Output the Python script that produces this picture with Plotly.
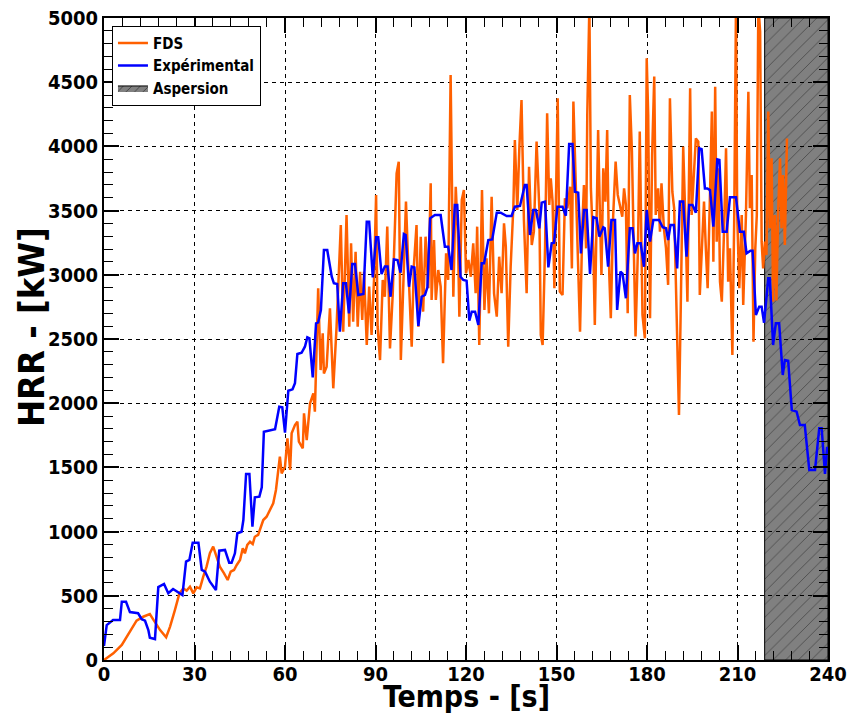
import plotly.graph_objects as go

# FDS (simulation) - temps [s] / HRR [kW]
t_fds = [0, 3.1, 5.9, 8.6, 10.8, 13, 15.2, 16.3, 18.6, 20.6, 21.9, 23.5, 25, 26.3, 27.4, 28.5, 29.6,
         30.7, 31.8, 32.9, 34, 35.1, 36.2, 37.3, 38.4, 39.8, 41, 42, 43.1, 44, 45.1, 46, 46.7, 47.5,
         48.4, 49.3, 50, 51.1, 52, 52.8, 53.9, 55, 56.1, 57, 57.8, 58.3, 58.9, 60, 60.8, 61.7, 62.2,
         63.3, 64.1, 64.6, 65.9, 66.3, 67.2, 68.3, 69.4, 69.9, 71, 71.8, 72.5, 72.9, 73.8, 74.9, 76,
         77.1, 78.5, 79.3, 80.4, 81.3, 81.9, 82.6, 83.4, 84.1, 84.9, 85.6, 86.2, 87.1, 87.9, 88.7,
         89.5, 90.2, 90.7, 91.5, 92.4, 93.1, 93.9, 94.8, 95.7, 96.5, 97, 97.7, 98.4, 99.2, 100.1,
         100.9, 101.4, 102, 102.7, 103.6, 104.2, 105, 105.8, 106.6, 107.5, 108.3, 108.6, 109.4, 110,
         110.8, 111.6, 112.4, 113.4, 114.1, 114.9, 115.8, 116.6, 117.3, 117.8, 118.6, 119.3, 120,
         120.8, 121.6, 122.4, 123.2, 123.7, 124.4, 125.3, 126.1, 126.8, 127.6, 128.5, 129.3, 130.2,
         131, 131.8, 132.6, 133.2, 134, 134.8, 135.7, 136.2, 137, 137.7, 138.4, 139.2, 140.1, 140.9,
         141.8, 142.5, 143.4, 144.3, 144.8, 145.4, 146.2, 146.9, 147.6, 148.1, 148.7, 149.3, 149.8,
         150.4, 151.1, 152, 152.8, 153.6, 154.5, 155.1, 155.6, 156.4, 157.1, 157.8, 158.6, 159.1,
         159.8, 160.2, 160.9, 161.4, 162.2, 162.7, 163.3, 163.8, 164.4, 164.9, 165.5, 166.2, 166.8,
         167.5, 168, 168.8, 169.6, 170.3, 171, 171.8, 172.4, 173, 173.6, 174.3, 175, 175.6, 176.2,
         177, 177.6, 178.5, 179.3, 179.9, 180.4, 181, 181.7, 182.4, 182.9, 183.7, 184.3, 184.8,
         185.6, 186.3, 187, 187.6, 188.4, 189, 189.8, 190.6, 191.2, 192, 192.8, 193.4, 194.3, 194.8,
         195.4, 196.2, 197, 197.5, 198.2, 198.9, 199.5, 200.1, 200.9, 201.5, 202, 202.6, 203.1,
         203.7, 204.2, 204.8, 205.5, 206.2, 206.9, 207.5, 208.3, 208.9, 209.5, 209.9, 210.6, 211.4,
         211.9, 212.8, 213.6, 214.1, 214.7, 215.3, 215.9, 216.4, 216.9, 217.5, 218, 218.5, 219.1,
         219.6, 220.2, 220.7, 221.3, 221.8, 222.4, 222.9, 223.5, 224.1, 224.6, 225.1, 225.7, 226.4]
hrr_fds = [0, 52, 117, 221, 306, 337, 358, 317, 233, 177, 260, 389, 519, 558, 540, 571, 519,
           566, 558, 649, 727, 831, 883, 805, 727, 675, 623, 688, 701, 740, 779, 870, 831, 896,
           921, 903, 960, 974, 1038, 1090, 1116, 1168, 1220, 1324, 1493, 1583, 1454, 1505, 1727, 1480, 1765,
           1830, 1856, 1700, 1649, 1921, 1713, 1999, 2077, 1934, 2895, 2258, 2544, 2232, 2284, 2739, 2116,
           2596, 3388, 2557, 3466, 2596, 3245, 2635, 3180, 2596, 3024, 2648, 3024, 2453, 2908, 2531,
           2960, 3622, 2596, 2336, 2960, 2829, 3375, 2427, 2843, 3375, 3790, 3881, 2336, 2908, 3570,
           3050, 2817, 2440, 3063, 3388, 2596, 3297, 2713, 3297, 2895, 3712, 2804, 3271, 2804,
           3037, 2908, 2311, 3167, 2960, 4556, 2829, 3686, 3323, 2674, 3583, 3660, 3011,
           3115, 2985, 3245, 2856, 3375, 2453, 3660, 2726, 3128, 2700, 3608, 2856, 2674,
           3141, 2856, 3401, 3219, 2440, 3063, 3530, 4050, 3505, 4000, 4361, 3427, 2856, 3842,
           3232, 3336, 4037, 3518, 2531, 2453, 3206, 4258, 3544, 3751, 3570, 2895, 3466,
           4375, 2869, 2843, 3596, 3518, 3686, 3050, 4349, 3673, 3063, 2557, 3414, 3699,
           3206, 4245, 5100, 3673, 3206, 2609, 3440, 4128, 3466, 2998, 3829, 3570, 4128,
           2998, 2661, 3466, 3881, 3622, 3544, 3453, 3673, 3544, 2700, 4400, 3959, 3362, 2520,
           3206, 4115, 2687, 2505, 4686, 4245, 2661, 3933, 4545, 3466, 3673, 3336, 3712,
           3362, 3206, 2921, 4375, 3647, 3518, 2817, 1908, 2765, 3998, 3362, 2791, 4452, 3466,
           3725, 4062, 4037, 2843, 3206, 3570, 3206, 2895, 3647, 4271, 3102, 4465, 3258,
           3829, 2947, 2791, 3310, 3985, 2947, 3206, 2375, 3414, 5100, 3466, 2895, 3466,
           2765, 3466, 4426, 3518, 3777, 2479, 3206, 3466, 5100, 4894, 3258, 3050, 3258,
           3154, 4271, 3362, 3907, 2791, 3466, 2800, 3518, 3907, 3362, 3777, 3232, 4062]

# Expérimental
t_exp = [0, 0.9, 3, 5.3, 5.9, 7.3, 8.6, 11.3, 12.5, 13.6, 14.7, 15.2, 16.9, 18, 19.9, 21.3, 22.9,
         24.5, 26, 27.2, 28.3, 29.4, 31.3, 32.4, 33.5, 35.1, 37.1, 38.2, 40.1, 41.5, 42.3, 43.4,
         44.2, 45.6, 46.2, 47.1, 48.2, 49.2, 50, 51.5, 52.3, 53, 56.7, 58.1, 59.1, 60, 61.1, 62.5,
         63.3, 64.1, 65.5, 66.6, 67.4, 68.1, 69.2, 70.3, 71, 71.9, 72.9, 74, 75.5, 76.2, 77.3, 78.2,
         79.3, 80.2, 81.2, 82.3, 83.2, 84.3, 86, 87.1, 87.9, 89.1, 90.2, 90.9, 92, 93.1, 94, 95,
         96.1, 97.3, 98.3, 99.4, 100, 101.1, 102, 102.9, 104.2, 105.3, 106.4, 107.2, 108.1, 109.7,
         111.6, 113, 114.1, 115.2, 116.3, 117.1, 118.2, 119.1, 120.2, 121.1, 121.9, 123, 124.1,
         125.2, 126, 127.4, 128.7, 130.2, 131.5, 133.5, 135.1, 136.2, 137.9, 139.5, 140.1, 141.2,
         142.3, 143.2, 144.3, 145.1, 146.2, 147.3, 148.4, 149.2, 150.3, 152, 153.1, 154.2, 155.3,
         156.1, 157.2, 158.1, 159.1, 160, 161.1, 162.2, 163.3, 164.2, 165.5, 166, 167.1, 168.2,
         169.4, 170.1, 171.2, 171.9, 173, 174.3, 175.2, 176, 176.8, 177.9, 179, 179.9, 181, 182.1,
         184, 185.2, 186.3, 187, 187.8, 188.9, 190, 190.9, 192, 193.1, 194, 195.1, 196.2, 197.3,
         198.1, 199.2, 200, 200.9, 202, 203.3, 204, 205.1, 206.4, 207.5, 209.5, 210.8, 212.1, 213,
         214.3, 215, 216.1, 217.2, 218, 218.8, 220.2, 220.7, 221.8, 222.7, 223.8, 225, 225.7, 226.8,
         228, 229.6, 230.7, 232.3, 233.8, 235.7, 237.1, 237.9, 239, 239.7]
hrr_exp = [110, 272, 311, 311, 454, 454, 373, 364, 318, 306, 233, 174, 163, 568, 592, 520, 553,
           532, 506, 766, 779, 914, 914, 701, 688, 610, 545, 851, 857, 758, 758, 831,
           987, 999, 1090, 1449, 1449, 1038, 1267, 1272, 1345, 1778, 1797, 1973, 1968, 1770, 2097, 2108,
           2155, 2383, 2393, 2440, 2513, 2505, 2201, 2622, 2630, 2726, 3193, 3193, 2985, 2934, 2929, 2557,
           2934, 2934, 2700, 3084, 3084, 2843, 2850, 3414, 3414, 2980, 3292, 3292, 3006, 3064, 3064, 2829,
           3120, 3115, 3017, 3318, 3310, 2907, 3064, 3058, 2601, 2829, 2843, 2902, 3440, 3466,
           3466, 3219, 3219, 3037, 3544, 3544, 2985, 2960, 2954, 2643, 2713, 2713, 2609,
           3089, 3089, 3271, 3276, 3484, 3484, 3458, 3458, 3530, 3536, 3699, 3699, 3310,
           3505, 3505, 3362, 3562, 3570, 3058, 3245, 3250, 3530, 3530, 3460, 4019, 4019,
           3647, 3640, 3167, 3505, 3505, 3006, 3448, 3440, 3297, 3370, 3362, 3063, 3427,
           3427, 2726, 3024, 3010, 2817, 3362, 3362, 3167, 3245, 3245, 3063, 3505, 3258, 3427,
           3427, 3370, 3362, 3271, 3388, 3388, 3050, 3570, 3570, 3141, 3544, 3544, 3484, 3985,
           3978, 3673, 3673, 3660, 3375, 3899, 3894, 3336, 3336, 3603, 3603, 3336, 3336, 3167,
           3188, 3188, 2687, 2752, 2752, 2627, 2973, 2973, 2453, 2622, 2622, 2220, 2336, 2331,
           1947, 1934, 1830, 1830, 1480, 1480, 1805, 1805, 1449, 1661]

# periode d'aspersion
asp_start = 219
asp_end = 240
hrr_max = 5000

x_ticks = [0, 30, 60, 90, 120, 150, 180, 210, 240]
y_ticks = [0, 500, 1000, 1500, 2000, 2500, 3000, 3500, 4000, 4500, 5000]

fnt = "DejaVu Sans Condensed, DejaVu Sans"

fig = go.Figure()

# zone grise sous la grille
fig.add_shape(type="rect", x0=asp_start, x1=asp_end, y0=0, y1=hrr_max,
              xref="x", yref="y", layer="below",
              fillcolor="#808080", line=dict(width=0))

# hachures (fond transparent -> la grille reste visible)
fig.add_trace(go.Scatter(
    x=[asp_start, asp_end, asp_end, asp_start, asp_start],
    y=[0, 0, hrr_max, hrr_max, 0],
    mode="lines", fill="toself", showlegend=False, hoverinfo="skip",
    line=dict(color="black", width=1),
    fillcolor="rgba(0,0,0,0)",
    fillpattern=dict(shape="/", fgcolor="black", bgcolor="rgba(0,0,0,0)", size=9, solidity=0.08),
))
fig.add_trace(go.Scatter(x=t_fds, y=hrr_fds, name="FDS", mode="lines", legendrank=1,
                         line=dict(color="#ff6000", width=2.5)))
fig.add_trace(go.Scatter(x=t_exp, y=hrr_exp, name="Expérimental", mode="lines", legendrank=2,
                         line=dict(color="#0000ff", width=2.5)))
# entree de legende Aspersion
fig.add_trace(go.Scatter(
    x=[None], y=[None], name="Aspersion", mode="lines", fill="toself", legendrank=3,
    line=dict(color="black", width=1), fillcolor="#808080",
    fillpattern=dict(shape="/", fgcolor="black", bgcolor="#808080", size=6, solidity=0.15),
))

axis_common = dict(
    showline=True, linecolor="black", linewidth=2, mirror="ticks",
    ticks="inside", ticklen=15, tickwidth=1.5, tickcolor="black",
    showgrid=True, gridcolor="black", gridwidth=1, griddash="4px,4px",
    zeroline=False, automargin=False, ticklabeloverflow="allow",
    tickfont=dict(family=fnt, size=20, color="black", weight="bold"),
)

fig.update_xaxes(
    range=[0, 240], tickvals=x_ticks, ticktext=[str(v) for v in x_ticks],
    minor=dict(dtick=6, ticks="inside", ticklen=9, tickcolor="black", tickwidth=1, showgrid=False),
    ticklabelstandoff=-5,
    **axis_common)
fig.update_yaxes(
    range=[0, 5000], tickvals=y_ticks, ticktext=[str(v) for v in y_ticks],
    minor=dict(dtick=100, ticks="inside", ticklen=9, tickcolor="black", tickwidth=1, showgrid=False),
    **axis_common)

# titres des axes
fig.add_annotation(text="Temps - [s]", xref="paper", yref="paper", x=0.5, y=0,
                   xanchor="center", yanchor="bottom", yshift=-56, showarrow=False,
                   font=dict(family=fnt, size=30, color="black", weight="bold"))
fig.add_annotation(text="HRR - [kW]", xref="paper", yref="paper", x=0, y=0.5,
                   xanchor="center", yanchor="middle", xshift=-73, yshift=12, textangle=-90,
                   showarrow=False,
                   font=dict(family=fnt, size=36, color="black", weight="bold"))

fig.update_layout(
    width=850, height=717,
    margin=dict(l=104, r=22, t=18, b=57),
    plot_bgcolor="white", paper_bgcolor="white",
    legend=dict(x=0.011, y=0.988, xanchor="left", yanchor="top",
                bordercolor="black", borderwidth=1, bgcolor="white",
                tracegroupgap=0, itemwidth=30,
                font=dict(family=fnt, size=15, color="black", weight="bold")),
)

# pas de marge autour du graphique dans la page
fig.write_html("out.html", config={"displayModeBar": False},
               post_script="document.body.style.margin='0';")
